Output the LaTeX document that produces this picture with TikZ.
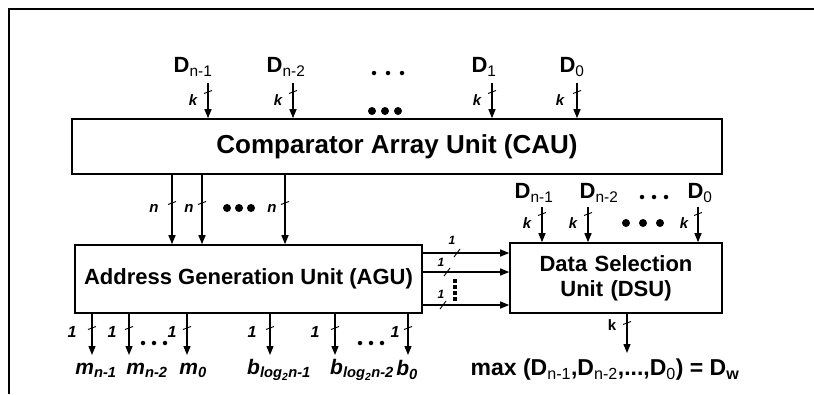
\documentclass[tikz,border=0pt]{standalone}
\usepackage{fontspec}
\setmainfont{Liberation Sans}
\usetikzlibrary{arrows.meta}
\newcommand\sbs[1]{\textsubscript{#1}}
\newcommand\lsb[1]{\textsubscript{\mdseries #1}}
\begin{document}
\begin{tikzpicture}[x=1pt,y=-1pt,
  box/.style={draw, line width=1.6pt, font=\fontsize{22}{25}\selectfont\bfseries, align=center, inner sep=0pt},
  arr/.style={line width=1.3pt, -{Triangle[length=9pt,width=7pt]}},
  lbl/.style={font=\fontsize{22}{24}\selectfont\bfseries, inner sep=0pt},
  olbl/.style={font=\fontsize{21}{24}\selectfont\bfseries\itshape, inner sep=0pt},
  wl/.style={font=\fontsize{15}{16}\selectfont\bfseries\itshape, inner sep=0pt},
  tickm/.style={line width=0.9pt},
  bigdot/.style={circle, fill, inner sep=0pt, minimum size=8pt},
  smalldot/.style={circle, fill, inner sep=0pt, minimum size=4.5pt}]
\useasboundingbox (0,0) rectangle (814,394);
% frame
\draw[line width=2pt] (814,9) -- (9,9) -- (9,394);

% boxes
\node[box, minimum width=650pt, minimum height=55pt, font=\fontsize{26}{28}\selectfont\bfseries] (cau) at (397,146.5) {Comparator Array Unit (CAU)};
\node[box, minimum width=347pt, minimum height=68pt] (agu) at (248.5,279) {Address Generation Unit (AGU)};
\node[box, minimum width=212pt, minimum height=70pt, text width=200pt] (dsu) at (616,278) {Data Selection\\Unit (DSU)};

% top inputs to CAU
\foreach \x/\n in {208/t1, 293/t2, 492/t3, 577/t4} {
  \coordinate (\n) at (\x,83);
  \draw[arr] (\n) -- (\n |- cau.north);
  \draw[tickm] (\x,92) ++(-4,1.5) -- ++(8,-3);
}
\node[lbl] (dt1) at (193,67) {D\lsb{n-1}};
\node[lbl] (dt2) at (286,67) {D\lsb{n-2}};
\node[lbl] (dt3) at (484,67) {D\lsb{1}};
\node[lbl] (dt4) at (572,67) {D\lsb{0}};
\foreach \x in {374,388,402} \node[smalldot] at (\x,73) {};
\node[wl] (kt1) at (193,100) {k};
\node[wl] (kt2) at (278,100) {k};
\node[wl] (kt3) at (477,100) {k};
\node[wl] (kt4) at (560,100) {k};
\foreach \x in {372,385,398} \node[bigdot] at (\x,111) {};

% CAU -> AGU
\foreach \x/\n in {172/c1, 202/c2, 285/c3} {
  \coordinate (\n) at (\x,0);
  \draw[arr] (\n |- cau.south) -- (\n |- agu.north);
  \draw[tickm] (\x,203) ++(-4,1.5) -- ++(8,-3);
}
\node[wl] (n1) at (154,208) {n};
\node[wl] (n2) at (189,208) {n};
\node[wl] (n3) at (272,208) {n};
\foreach \x in {227,239,251} \node[bigdot] at (\x,208) {};

% DSU inputs
\foreach \x/\n in {542/s1, 588/s2, 698/s3} {
  \coordinate (\n) at (\x,207);
  \draw[arr] (\n) -- (\n |- dsu.north);
  \draw[tickm] (\x,214) ++(-4,1.5) -- ++(8,-3);
}
\node[lbl] (ds1) at (534,193) {D\lsb{n-1}};
\node[lbl] (ds2) at (599,193) {D\lsb{n-2}};
\node[lbl] (ds3) at (700,193) {D\lsb{0}};
\foreach \x in {642,654,666} \node[smalldot] at (\x,197) {};
\node[wl] (ks1) at (527,223) {k};
\node[wl] (ks2) at (573,223) {k};
\node[wl] (ks3) at (684,223) {k};
\foreach \x in {626,643,660} \node[bigdot] at (\x,223) {};

% AGU -> DSU
\foreach \y/\n/\t in {253/a1/457, 272/a2/447, 305/a3/443} {
  \coordinate (\n) at (0,\y);
  \draw[arr] (\n -| agu.east) -- (\n -| dsu.west);
  \draw[tickm] (\t,\y) ++(-3,4) -- ++(6,-8);
}
\node[wl, font=\fontsize{12}{13}\selectfont\bfseries\itshape] (l1) at (452,240) {1};
\node[wl, font=\fontsize{12}{13}\selectfont\bfseries\itshape] (l2) at (441,262) {1};
\node[wl, font=\fontsize{12}{13}\selectfont\bfseries\itshape] (l3) at (441,294) {1};
\foreach \y in {281,287,293,299} \fill (452.5,\y-1.8) rectangle (456.5,\y+1.8);

% AGU outputs
\foreach \x/\n/\lx in {92/o1/72, 129/o2/112, 187/o3/172, 270/o4/252, 335/o5/315, 408/o6/395} {
  \coordinate (\n) at (\x,355);
  \draw[arr] (\n |- agu.south) -- (\n);
  \draw[tickm] (\x,328) ++(-4,1.5) -- ++(8,-3);
  \node[wl, font=\fontsize{16}{17}\selectfont\bfseries\itshape] at (\lx,332) {1};
}
\foreach \x in {143,154,165} \node[smalldot] at (\x,343) {};
\foreach \x in {360,371,382} \node[smalldot] at (\x,343) {};
\node[olbl] (m1) at (96,370) {m\sbs{n-1}};
\node[olbl] (m2) at (147,370) {m\sbs{n-2}};
\node[olbl] (m3) at (193,370) {m\sbs{0}};
\node[olbl] (b1) at (279,370) {b\sbs{log\sbs{2}n-1}};
\node[olbl] (b2) at (362,370) {b\sbs{log\sbs{2}n-2}};
\node[olbl] (b3) at (407,370) {b\sbs{0}};

% DSU output
\coordinate (dout) at (627,353);
\draw[arr] (dout |- dsu.south) -- (dout);
\draw[tickm] (627,323) ++(-4,1.5) -- ++(8,-3);
\node[wl, font=\fontsize{15}{16}\selectfont\bfseries] (kd) at (612,325) {k};
\node[lbl, font=\fontsize{23}{25}\selectfont\bfseries] (res) at (605,370) {max (D\lsb{n-1},D\lsb{n-2},...,D\lsb{0}) = D\sbs{w}};
\end{tikzpicture}
\end{document}
